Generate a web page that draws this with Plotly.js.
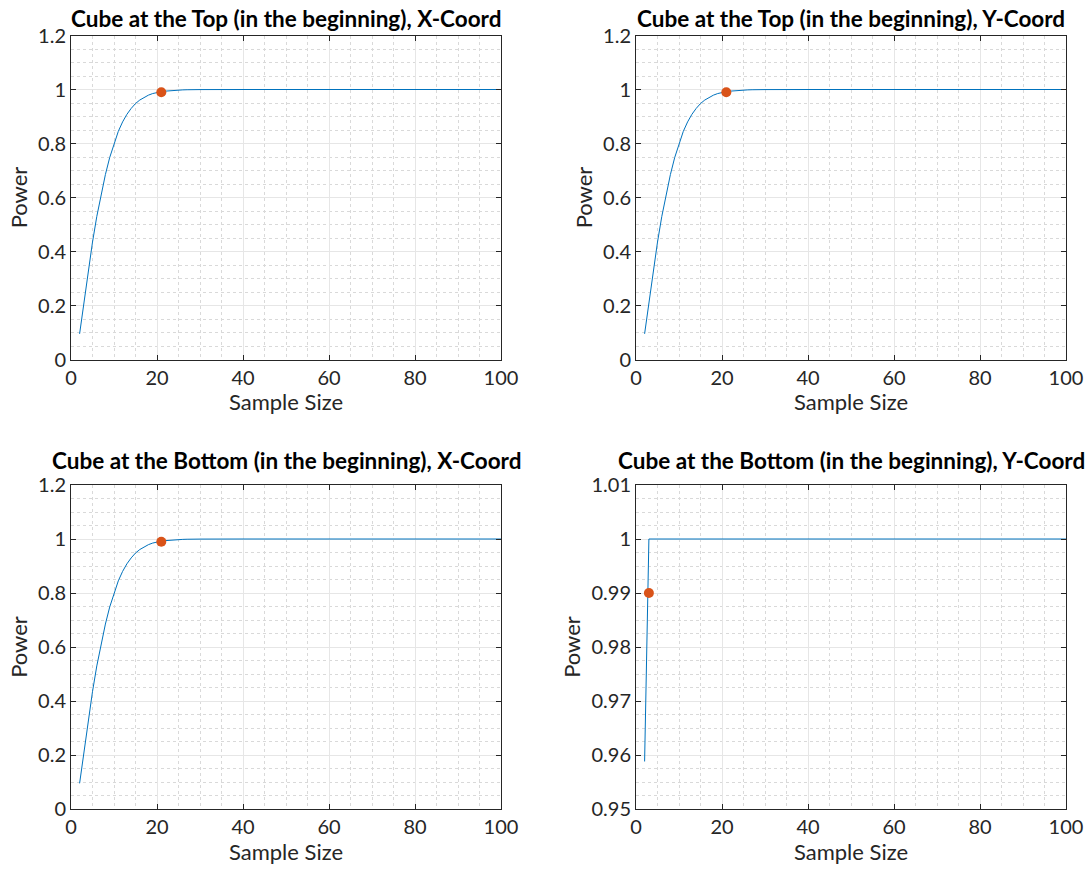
<!DOCTYPE html>
<html>
<head>
<meta charset="utf-8">
<script src="https://cdn.plot.ly/plotly-3.0.1.min.js"></script>
<style>
  html, body { margin: 0; padding: 0; background: #fff; }
  #chart { width: 1092px; height: 873px; }
</style>
</head>
<body>
<div id="chart"></div>
<script>
// Sample sizes at which power was evaluated (flat at 1 beyond n = 30)
const sampleSize = [2, 3, 4, 5, 6, 7, 8, 9, 10, 11, 12, 13, 14, 15, 16, 17, 18, 19, 20,
                    21, 22, 23, 24, 25, 26, 27, 28, 29, 30, 40, 50, 60, 70, 80, 90, 100];

// Power curves, cube starting at the top
const powerTopX = [0.095, 0.215, 0.330, 0.435, 0.530, 0.610, 0.685, 0.748, 0.800, 0.845,
                   0.880, 0.908, 0.930, 0.948, 0.961, 0.971, 0.979, 0.985, 0.989,
                   0.992, 0.994, 0.9958, 0.997, 0.998, 0.9986, 0.9991, 0.9994, 0.9996, 0.9997,
                   1, 1, 1, 1, 1, 1, 1];
const powerTopY = [0.095, 0.215, 0.330, 0.435, 0.530, 0.610, 0.685, 0.748, 0.800, 0.845,
                   0.880, 0.908, 0.930, 0.948, 0.961, 0.971, 0.979, 0.985, 0.989,
                   0.992, 0.994, 0.9958, 0.997, 0.998, 0.9986, 0.9991, 0.9994, 0.9996, 0.9997,
                   1, 1, 1, 1, 1, 1, 1];

// Power curves, cube starting at the bottom
const powerBottomX = [0.095, 0.215, 0.330, 0.435, 0.530, 0.610, 0.685, 0.748, 0.800, 0.845,
                      0.880, 0.908, 0.930, 0.948, 0.961, 0.971, 0.979, 0.985, 0.989,
                      0.992, 0.994, 0.9958, 0.997, 0.998, 0.9986, 0.9991, 0.9994, 0.9996, 0.9997,
                      1, 1, 1, 1, 1, 1, 1];
const sampleSizeBottomY = [2, 3, 100];
const powerBottomY = [0.9588, 1, 1];

// Smallest sample size reaching the target power
const targetPower = 0.99;
const requiredN = { topX: 21, topY: 21, bottomX: 21, bottomY: 3 };

const panelTitles = [
  'Cube at the Top (in the beginning), X-Coord',
  'Cube at the Top (in the beginning), Y-Coord',
  'Cube at the Bottom (in the beginning), X-Coord',
  'Cube at the Bottom (in the beginning), Y-Coord'
];

const FONT = 'Lato, "Open Sans", sans-serif';
const LINE = '#0072BD';
const DOT = '#D95319';
const AXIS = '#262626';

function curve(x, y, xa, ya) {
  return { x: x, y: y, xaxis: xa, yaxis: ya, type: 'scatter', mode: 'lines',
           line: { color: LINE, width: 1 }, hoverinfo: 'x+y', showlegend: false };
}
function dot(n, xa, ya) {
  return { x: [n], y: [targetPower], xaxis: xa, yaxis: ya, type: 'scatter', mode: 'markers',
           marker: { color: DOT, size: 10 }, showlegend: false };
}

const data = [
  curve(sampleSize, powerTopX, 'x', 'y'),  dot(requiredN.topX, 'x', 'y'),
  curve(sampleSize, powerTopY, 'x2', 'y2'), dot(requiredN.topY, 'x2', 'y2'),
  curve(sampleSize, powerBottomX, 'x3', 'y3'), dot(requiredN.bottomX, 'x3', 'y3'),
  curve(sampleSizeBottomY, powerBottomY, 'x4', 'y4'), dot(requiredN.bottomY, 'x4', 'y4')
];

function xAxis(domain, anchor) {
  return {
    domain: domain, anchor: anchor, range: [0, 100], dtick: 20, tick0: 0,
    showline: true, linecolor: AXIS, linewidth: 1, mirror: 'allticks',
    ticks: 'inside', ticklen: 5, tickcolor: AXIS, tickwidth: 1,
    showgrid: true, gridcolor: '#e6e6e6', gridwidth: 1, zeroline: false,
    minor: { dtick: 5, showgrid: true, gridcolor: '#d9d9d9', griddash: 'dot', gridwidth: 1, ticks: '' },
    tickfont: { family: FONT, size: 20, color: AXIS },
    title: { text: 'Sample Size', font: { family: FONT, size: 22, color: AXIS }, standoff: 1 },
    fixedrange: true
  };
}
function yAxis(domain, anchor, range, dtick, minorDtick) {
  return {
    domain: domain, anchor: anchor, range: range, dtick: dtick, tick0: range[0],
    showline: true, linecolor: AXIS, linewidth: 1, mirror: 'allticks',
    ticks: 'inside', ticklen: 5, tickcolor: AXIS, tickwidth: 1,
    showgrid: true, gridcolor: '#e6e6e6', gridwidth: 1, zeroline: false,
    minor: { dtick: minorDtick, tick0: range[0], showgrid: true, gridcolor: '#d9d9d9', griddash: 'dot', gridwidth: 1, ticks: '' },
    tickfont: { family: FONT, size: 20, color: AXIS },
    title: { text: 'Power', font: { family: FONT, size: 22, color: AXIS }, standoff: 4 },
    fixedrange: true
  };
}

const colL = [71 / 1092, 501 / 1092];
const colR = [636 / 1092, 1066 / 1092];
const rowT = [1 - 359.5 / 873, 1 - 35.5 / 873];
const rowB = [1 - 809 / 873, 1 - 485 / 873];

function titleAnn(text, col, row, lift) {
  return {
    text: '<b>' + text + '</b>', xref: 'paper', yref: 'paper',
    x: (col[0] + col[1]) / 2, y: row[1], yshift: lift, xanchor: 'center', yanchor: 'bottom',
    showarrow: false, font: { family: FONT, size: 22.5, color: '#000' }
  };
}

const layout = {
  width: 1092, height: 873,
  margin: { l: 0, r: 0, t: 0, b: 0 },
  paper_bgcolor: '#ffffff', plot_bgcolor: '#ffffff',
  showlegend: false,
  xaxis: xAxis(colL, 'y'),
  yaxis: yAxis(rowT, 'x', [0, 1.2], 0.2, 0.05),
  xaxis2: xAxis(colR, 'y2'),
  yaxis2: yAxis(rowT, 'x2', [0, 1.2], 0.2, 0.05),
  xaxis3: xAxis(colL, 'y3'),
  yaxis3: yAxis(rowB, 'x3', [0, 1.2], 0.2, 0.05),
  xaxis4: xAxis(colR, 'y4'),
  yaxis4: yAxis(rowB, 'x4', [0.95, 1.01], 0.01, 0.0025),
  annotations: [
    titleAnn(panelTitles[0], colL, rowT, 1),
    titleAnn(panelTitles[1], colR, rowT, 1),
    titleAnn(panelTitles[2], colL, rowB, 9),
    titleAnn(panelTitles[3], colR, rowB, 9)
  ]
};

Plotly.newPlot('chart', data, layout, { displayModeBar: false, staticPlot: true });
</script>
</body>
</html>
